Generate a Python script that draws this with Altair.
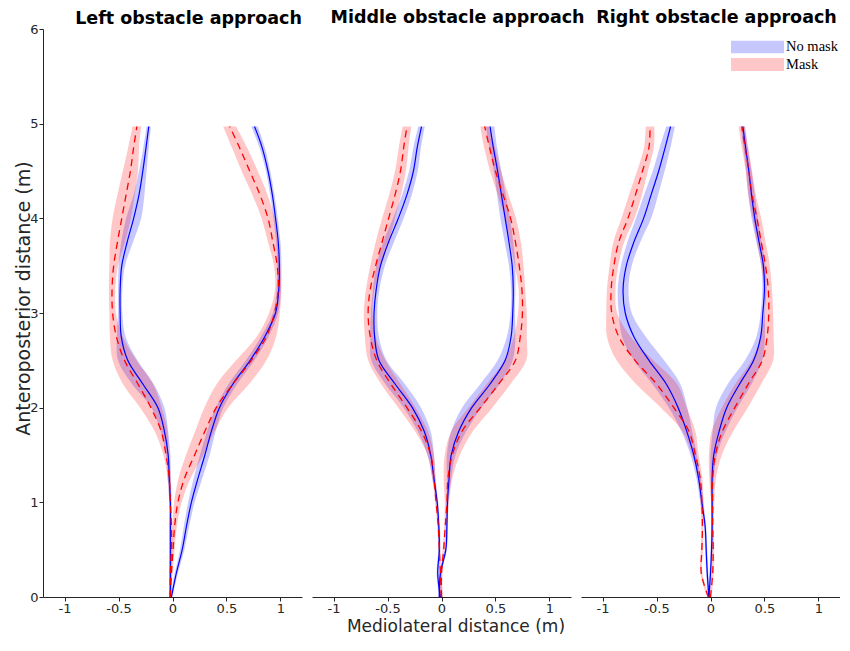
import altair as alt
import pandas as pd

# ---------------- data ----------------
PANELS = ["Left obstacle approach", "Middle obstacle approach", "Right obstacle approach"]
CONDITIONS = ["No mask", "Mask"]
COLORS = ["#0000ff", "#ff0000"]
X_TICKS = [-1, -0.5, 0, 0.5, 1]
Y_TICKS = [0, 1, 2, 3, 4, 5, 6]

# anteroposterior sample positions (m)
Y = [0, 0.25, 0.5, 0.75, 1.0, 1.25, 1.5, 1.75, 2.0, 2.25, 2.5, 2.75, 3.0,
     3.25, 3.5, 3.75, 4.0, 4.25, 4.5, 4.75, 4.97]

# Left obstacle approach
P1_NM_LEFT_X = [-0.02, -0.02, -0.02, -0.02, -0.02, -0.03, -0.04, -0.075, -0.135, -0.275, -0.415, -0.475, -0.485, -0.485, -0.47, -0.42, -0.36, -0.31, -0.275, -0.245, -0.22]
P1_NM_LEFT_SD = [0.01, 0.01, 0.01, 0.01, 0.01, 0.015, 0.02, 0.035, 0.06, 0.1, 0.09, 0.04, 0.02, 0.02, 0.03, 0.055, 0.07, 0.05, 0.035, 0.025, 0.02]
P1_M_LEFT_X = [-0.02, -0.02, -0.01, -0.01, -0.02, -0.03, -0.06, -0.105, -0.2, -0.32, -0.445, -0.52, -0.555, -0.56, -0.545, -0.51, -0.47, -0.43, -0.39, -0.36, -0.33]
P1_M_LEFT_SD = [0.01, 0.01, 0.01, 0.01, 0.01, 0.015, 0.025, 0.06, 0.1, 0.14, 0.11, 0.06, 0.03, 0.03, 0.04, 0.07, 0.085, 0.08, 0.07, 0.05, 0.04]
P1_NM_RIGHT_X = [-0.01, 0.035, 0.09, 0.13, 0.175, 0.235, 0.30, 0.36, 0.435, 0.56, 0.72, 0.855, 0.955, 0.985, 0.99, 0.98, 0.955, 0.925, 0.885, 0.83, 0.76]
P1_NM_RIGHT_SD = [0.01, 0.015, 0.02, 0.025, 0.03, 0.04, 0.045, 0.04, 0.035, 0.04, 0.04, 0.035, 0.025, 0.02, 0.02, 0.02, 0.02, 0.02, 0.02, 0.025, 0.03]
P1_M_RIGHT_X = [-0.02, -0.01, 0.005, 0.02, 0.05, 0.11, 0.205, 0.30, 0.405, 0.56, 0.73, 0.87, 0.945, 0.98, 0.97, 0.93, 0.885, 0.81, 0.715, 0.62, 0.53]
P1_M_RIGHT_SD = [0.01, 0.01, 0.015, 0.02, 0.035, 0.055, 0.08, 0.09, 0.11, 0.15, 0.14, 0.09, 0.05, 0.03, 0.03, 0.045, 0.06, 0.07, 0.075, 0.07, 0.06]

# Middle obstacle approach
P2_NM_LEFT_X = [-0.01, -0.035, -0.02, -0.025, -0.04, -0.07, -0.10, -0.16, -0.27, -0.43, -0.58, -0.62, -0.625, -0.605, -0.565, -0.49, -0.40, -0.32, -0.26, -0.225, -0.185]
P2_NM_LEFT_SD = [0.01, 0.01, 0.01, 0.01, 0.01, 0.015, 0.03, 0.06, 0.08, 0.09, 0.07, 0.04, 0.03, 0.03, 0.04, 0.05, 0.05, 0.045, 0.04, 0.035, 0.03]
P2_M_LEFT_X = [0.0, -0.01, -0.02, -0.03, -0.05, -0.07, -0.10, -0.185, -0.32, -0.47, -0.60, -0.66, -0.68, -0.66, -0.61, -0.55, -0.49, -0.43, -0.38, -0.35, -0.32]
P2_M_LEFT_SD = [0.01, 0.01, 0.01, 0.01, 0.01, 0.015, 0.03, 0.06, 0.08, 0.09, 0.08, 0.05, 0.04, 0.04, 0.05, 0.06, 0.06, 0.055, 0.05, 0.045, 0.04]
P2_NM_RIGHT_X = [-0.02, -0.01, 0.04, 0.05, 0.055, 0.07, 0.09, 0.16, 0.28, 0.45, 0.59, 0.645, 0.66, 0.665, 0.655, 0.625, 0.59, 0.555, 0.52, 0.48, 0.45]
P2_NM_RIGHT_SD = [0.01, 0.01, 0.01, 0.01, 0.01, 0.02, 0.04, 0.07, 0.09, 0.09, 0.07, 0.04, 0.02, 0.02, 0.03, 0.04, 0.045, 0.04, 0.035, 0.035, 0.04]
P2_M_RIGHT_X = [0.0, 0.0, 0.02, 0.035, 0.05, 0.06, 0.10, 0.19, 0.36, 0.53, 0.685, 0.73, 0.75, 0.745, 0.72, 0.685, 0.64, 0.57, 0.50, 0.445, 0.40]
P2_M_RIGHT_SD = [0.01, 0.01, 0.01, 0.01, 0.02, 0.04, 0.07, 0.1, 0.11, 0.11, 0.1, 0.06, 0.04, 0.03, 0.04, 0.05, 0.05, 0.05, 0.05, 0.05, 0.04]

# Right obstacle approach
P3_NM_LEFT_X = [-0.015, -0.03, -0.04, -0.05, -0.08, -0.11, -0.155, -0.22, -0.30, -0.41, -0.57, -0.71, -0.79, -0.81, -0.78, -0.71, -0.62, -0.55, -0.48, -0.42, -0.37]
P3_NM_LEFT_SD = [0.01, 0.01, 0.01, 0.01, 0.015, 0.02, 0.03, 0.05, 0.085, 0.13, 0.14, 0.11, 0.06, 0.05, 0.05, 0.06, 0.07, 0.065, 0.055, 0.05, 0.04]
P3_M_LEFT_X = [-0.02, -0.085, -0.08, -0.075, -0.08, -0.095, -0.14, -0.20, -0.34, -0.50, -0.70, -0.85, -0.915, -0.92, -0.895, -0.85, -0.765, -0.695, -0.63, -0.57, -0.56]
P3_M_LEFT_SD = [0.01, 0.01, 0.01, 0.01, 0.015, 0.02, 0.03, 0.06, 0.12, 0.19, 0.17, 0.11, 0.05, 0.04, 0.04, 0.05, 0.06, 0.06, 0.05, 0.045, 0.04]
P3_NM_RIGHT_X = [-0.015, 0.0, 0.01, 0.015, 0.015, 0.015, 0.03, 0.08, 0.15, 0.27, 0.40, 0.465, 0.485, 0.50, 0.49, 0.45, 0.41, 0.38, 0.355, 0.325, 0.30]
P3_NM_RIGHT_SD = [0.01, 0.01, 0.01, 0.01, 0.01, 0.015, 0.03, 0.06, 0.1, 0.11, 0.08, 0.04, 0.02, 0.02, 0.02, 0.025, 0.03, 0.03, 0.025, 0.02, 0.02]
P3_M_RIGHT_X = [0.0, 0.02, 0.025, 0.02, 0.02, 0.02, 0.045, 0.11, 0.225, 0.35, 0.48, 0.525, 0.54, 0.535, 0.51, 0.47, 0.43, 0.385, 0.355, 0.32, 0.29]
P3_M_RIGHT_SD = [0.01, 0.01, 0.01, 0.01, 0.015, 0.03, 0.06, 0.1, 0.12, 0.12, 0.1, 0.06, 0.04, 0.035, 0.04, 0.04, 0.04, 0.035, 0.03, 0.03, 0.03]

CURVES = [
    (0, "No mask", "left", P1_NM_LEFT_X, P1_NM_LEFT_SD),
    (0, "No mask", "right", P1_NM_RIGHT_X, P1_NM_RIGHT_SD),
    (0, "Mask", "left", P1_M_LEFT_X, P1_M_LEFT_SD),
    (0, "Mask", "right", P1_M_RIGHT_X, P1_M_RIGHT_SD),
    (1, "No mask", "left", P2_NM_LEFT_X, P2_NM_LEFT_SD),
    (1, "No mask", "right", P2_NM_RIGHT_X, P2_NM_RIGHT_SD),
    (1, "Mask", "left", P2_M_LEFT_X, P2_M_LEFT_SD),
    (1, "Mask", "right", P2_M_RIGHT_X, P2_M_RIGHT_SD),
    (2, "No mask", "left", P3_NM_LEFT_X, P3_NM_LEFT_SD),
    (2, "No mask", "right", P3_NM_RIGHT_X, P3_NM_RIGHT_SD),
    (2, "Mask", "left", P3_M_LEFT_X, P3_M_LEFT_SD),
    (2, "Mask", "right", P3_M_RIGHT_X, P3_M_RIGHT_SD),
]

rows = []
for p, cond, side, xs, sds in CURVES:
    for i, (y, x, s) in enumerate(zip(Y, xs, sds)):
        rows.append({"panel": PANELS[p], "cond": cond, "side": side, "i": i,
                     "y": y, "x": x, "lo": x - s, "hi": x + s})
df = pd.DataFrame(rows)

# ---------------- chart ----------------
W, H = 259, 568
XS = alt.Scale(domain=[-1.2, 1.2], nice=False, zero=False)
YS = alt.Scale(domain=[0, 6], nice=False, zero=False)
COL = alt.Scale(domain=CONDITIONS, range=COLORS)
TITLE_DX = [16, 16, 6]
TITLE_OFFSET = [-4, 3, 3]


def make_panel(k):
    sub = df[df["panel"] == PANELS[k]]
    base = alt.Chart(sub)
    if k == 1:
        xaxis = alt.Axis(values=X_TICKS, labelExpr="'' + datum.value",
                         title="Mediolateral distance (m)", titleX=143.5,
                         titleFontSize=17)
    else:
        xaxis = alt.Axis(values=X_TICKS, labelExpr="'' + datum.value", title=None)
    if k == 0:
        yaxis = alt.Axis(values=Y_TICKS, labelExpr="'' + datum.value",
                         title="Anteroposterior distance (m)", titleY=H / 2 - 15,
                         titleX=-10, titleFontSize=19)
    else:
        yaxis = None

    def xe(field):
        return alt.X(field, type="quantitative", scale=XS, axis=xaxis)

    ye = alt.Y("y:Q", scale=YS, axis=yaxis)

    if k == 2:
        legend = alt.Legend(orient="none", legendX=150, legendY=11.5, title=None,
                            symbolType="M-1,-0.245H1V0.245H-1Z", symbolSize=2809,
                            symbolOpacity=0.22, symbolStrokeWidth=0, clipHeight=13,
                            labelFont="Liberation Serif", labelFontSize=14.5,
                            labelColor="black", labelOffset=2, rowPadding=2.5,
                            padding=0)
    else:
        legend = None

    band = base.mark_area(orient="horizontal", interpolate="catmull-rom",
                          opacity=0.22).encode(
        y=ye, x=xe("lo"), x2="hi",
        color=alt.Color("cond:N", scale=COL, legend=legend),
        detail="side:N",
    )
    nm = base.transform_filter(alt.datum.cond == "No mask").mark_line(
        color=COLORS[0], strokeWidth=1.2, interpolate="catmull-rom").encode(
        y=ye, x=xe("x"), detail="side:N", order="i:Q")
    mk = base.transform_filter(alt.datum.cond == "Mask").mark_line(
        color=COLORS[1], strokeWidth=1.3, strokeDash=[7, 5],
        interpolate="catmull-rom").encode(
        y=ye, x=xe("x"), detail="side:N", order="i:Q")

    return alt.layer(band, nm, mk).properties(
        width=W, height=H,
        title=alt.TitleParams(PANELS[k], font="DejaVu Sans", fontSize=17.5,
                              fontWeight="bold", color="black", anchor="middle",
                              dx=TITLE_DX[k], offset=TITLE_OFFSET[k]),
    )


chart = alt.hconcat(make_panel(0), make_panel(1), make_panel(2),
                    spacing=10, bounds="flush").resolve_scale(
    color="independent").properties(
    padding={"left": 6, "top": 0, "right": 0, "bottom": 0}
).configure_view(stroke=None).configure_axis(
    grid=False, domainColor="#262626", tickColor="#262626", domainWidth=1,
    tickSize=4, labelPadding=1, labelFont="DejaVu Sans", labelFontSize=13,
    labelColor="#262626", titleFont="DejaVu Sans", titleFontSize=18,
    titleFontWeight="normal", titleColor="#262626", titlePadding=3,
)

chart.save("out.html", embed_options={"renderer": "svg", "actions": False})
